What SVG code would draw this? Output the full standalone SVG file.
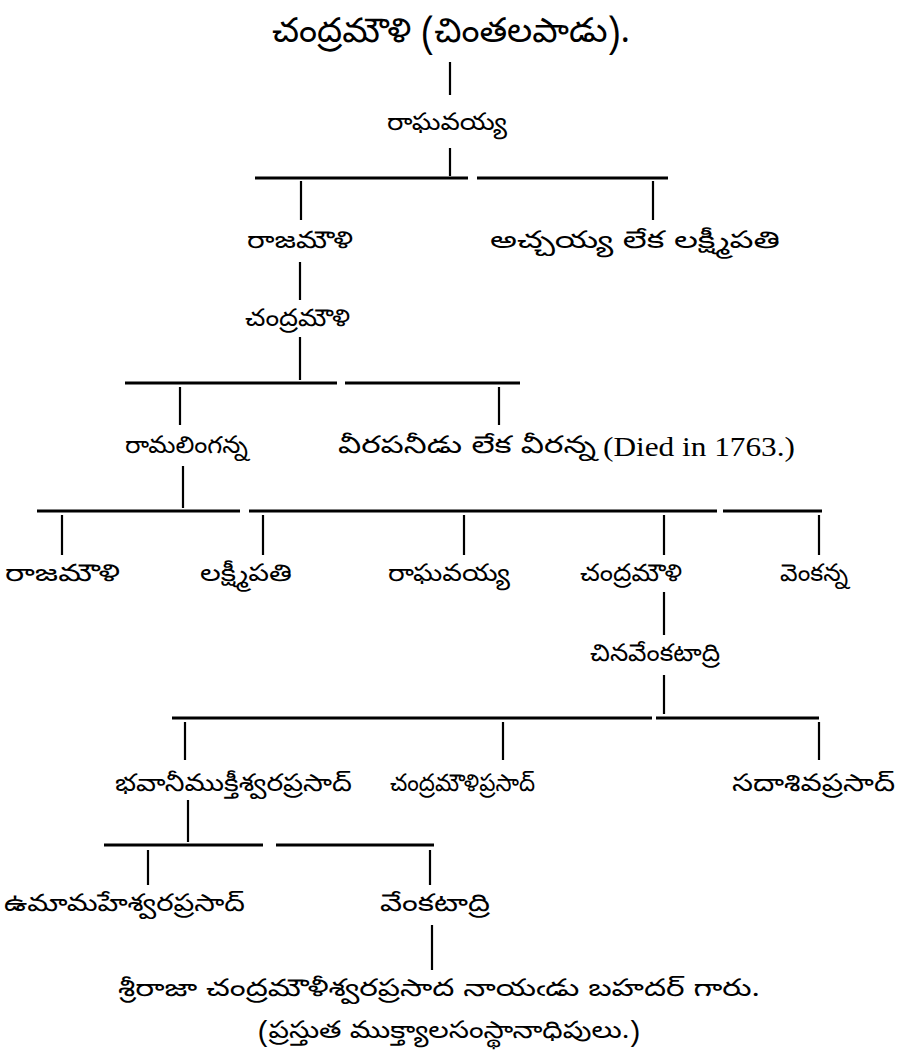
<svg xmlns="http://www.w3.org/2000/svg" width="899" height="1058" viewBox="0 0 899 1058">
<style>
.t{font-family:"Noto Sans Telugu","Noto Serif Telugu","Lohit Telugu","Pothana2000","Gautami","Liberation Serif",serif;font-size:24px;fill:#000}
.big{font-size:34px}
.en{font-family:"Liberation Serif","DejaVu Serif",serif;font-size:27px;fill:#000}
.v{stroke:#000;stroke-width:2.2;fill:none}
.h{stroke:#000;stroke-width:3.2;fill:none}
</style>
<rect width="899" height="1058" fill="#fff"/>
<g id="connectors">
<path class="v" d="M450 62V95M450 148V176"/>
<path class="h" d="M255 178H468M477 178H668"/>
<path class="v" d="M301 181V220M653 181V220"/>
<path class="v" d="M300 262V300M300 337V380"/>
<path class="h" d="M125 383H337M345 383H520"/>
<path class="v" d="M180 387V425M499 387V425"/>
<path class="v" d="M183 466V508"/>
<path class="h" d="M37 511H240M249 511H717M723 511H822"/>
<path class="v" d="M62 515V555M263 515V555M464 515V555M664 515V555M819 515V555"/>
<path class="v" d="M664 592V635M664 675V714"/>
<path class="h" d="M172 718H652M656 718H819"/>
<path class="v" d="M185 722V760M503 722V760M819 722V760"/>
<path class="v" d="M188 800V842"/>
<path class="h" d="M104 845H263M276 845H434"/>
<path class="v" d="M148 850V885M430 850V885"/>
<path class="v" d="M432 925V970"/>
</g>
<g id="n1"><text class="t big" x="272" y="42" textLength="358" lengthAdjust="spacingAndGlyphs">చంద్రమౌళి (చింతలపాడు).</text></g>
<g id="n2"><text class="t" x="387" y="130" textLength="120" lengthAdjust="spacingAndGlyphs">రాఘవయ్య</text></g>
<g id="n3"><text class="t" x="247" y="248" textLength="106" lengthAdjust="spacingAndGlyphs">రాజమౌళి</text></g>
<g id="n4"><text class="t" x="490" y="248" textLength="290" lengthAdjust="spacingAndGlyphs">అచ్చయ్య లేక లక్ష్మీపతి</text></g>
<g id="n5"><text class="t" x="245" y="326" textLength="105" lengthAdjust="spacingAndGlyphs">చంద్రమౌళి</text></g>
<g id="n6"><text class="t" x="125" y="453" textLength="123" lengthAdjust="spacingAndGlyphs">రామలింగన్న</text></g>
<g id="n7"><text class="t" x="338" y="453" textLength="258" lengthAdjust="spacingAndGlyphs">వీరపనీడు లేక వీరన్న</text><text class="en" x="603" y="456" textLength="192" lengthAdjust="spacingAndGlyphs">(Died in 1763.)</text></g>
<g id="n8"><text class="t" x="5" y="581" textLength="115" lengthAdjust="spacingAndGlyphs">రాజమౌళి</text></g>
<g id="n9"><text class="t" x="200" y="581" textLength="92" lengthAdjust="spacingAndGlyphs">లక్ష్మీపతి</text></g>
<g id="n10"><text class="t" x="388" y="581" textLength="122" lengthAdjust="spacingAndGlyphs">రాఘవయ్య</text></g>
<g id="n11"><text class="t" x="580" y="581" textLength="102" lengthAdjust="spacingAndGlyphs">చంద్రమౌళి</text></g>
<g id="n12"><text class="t" x="780" y="581" textLength="68" lengthAdjust="spacingAndGlyphs">వెంకన్న</text></g>
<g id="n13"><text class="t" x="590" y="661" textLength="130" lengthAdjust="spacingAndGlyphs">చినవేంకటాద్రి</text></g>
<g id="n14"><text class="t" x="115" y="791" textLength="237" lengthAdjust="spacingAndGlyphs">భవానీముక్తీశ్వరప్రసాద్</text></g>
<g id="n15"><text class="t" x="390" y="791" textLength="145" lengthAdjust="spacingAndGlyphs">చంద్రమౌళిప్రసాద్</text></g>
<g id="n16"><text class="t" x="732" y="791" textLength="163" lengthAdjust="spacingAndGlyphs">సదాశివప్రసాద్</text></g>
<g id="n17"><text class="t" x="4" y="911" textLength="241" lengthAdjust="spacingAndGlyphs">ఉమామహేశ్వరప్రసాద్</text></g>
<g id="n18"><text class="t" x="380" y="911" textLength="110" lengthAdjust="spacingAndGlyphs">వేంకటాద్రి</text></g>
<g id="n19"><text class="t" x="118" y="996" textLength="642" lengthAdjust="spacingAndGlyphs">శ్రీరాజా చంద్రమౌళీశ్వరప్రసాద నాయఁడు బహదర్ గారు.</text><text class="t" x="258" y="1038" textLength="382" lengthAdjust="spacingAndGlyphs">(ప్రస్తుత ముక్త్యాలసంస్థానాధిపులు.)</text></g>
</svg>
